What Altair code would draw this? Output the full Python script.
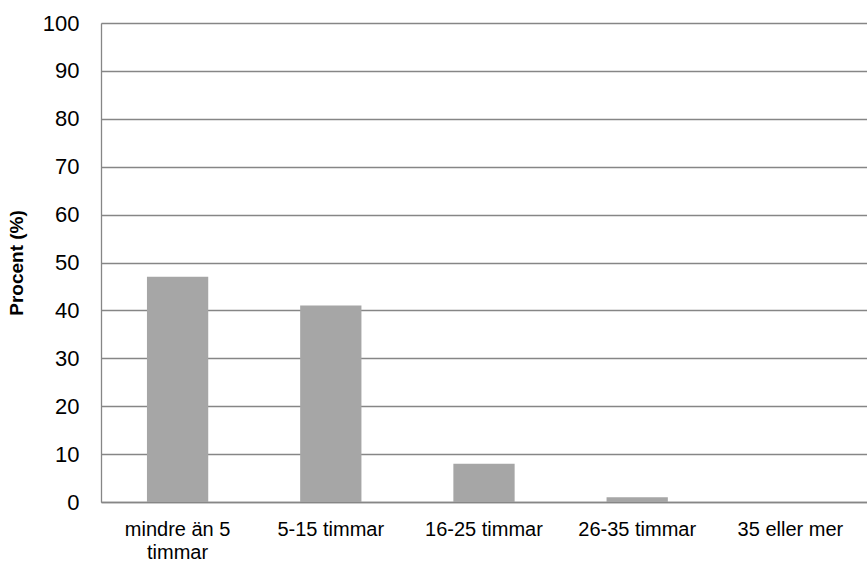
import altair as alt
import pandas as pd

categories = ["mindre än 5 timmar", "5-15 timmar", "16-25 timmar", "26-35 timmar", "35 eller mer"]
values = [47, 41, 8, 1, 0]

df = pd.DataFrame({"kategori": categories, "procent": values})

label_expr = "datum.value == 'mindre än 5 timmar' ? ['mindre än 5', 'timmar'] : datum.value"

chart = alt.Chart(df).mark_bar(color="#A6A6A6").encode(
    x=alt.X(
        "kategori:N",
        sort=categories,
        scale=alt.Scale(paddingInner=0.6, paddingOuter=0.3),
        axis=alt.Axis(
            title=None,
            labelAngle=0,
            labelExpr=label_expr,
            labelFont="Liberation Sans",
            labelFontSize=20,
            labelColor="#000000",
            labelPadding=17,
            labelLineHeight=23,
            ticks=False,
            domainColor="#868686",
            domainWidth=1.3,
            grid=False,
        ),
    ),
    y=alt.Y(
        "procent:Q",
        scale=alt.Scale(domain=[0, 100]),
        axis=alt.Axis(
            title="Procent (%)",
            values=list(range(0, 101, 10)),
            titleFont="Liberation Sans",
            titleFontSize=19,
            titleFontWeight="bold",
            titleColor="#000000",
            titlePadding=16,
            labelFont="Liberation Sans",
            labelFontSize=22,
            labelColor="#000000",
            labelPadding=22,
            ticks=False,
            domainColor="#868686",
            domainWidth=1.3,
            gridColor="#868686",
            gridWidth=1.3,
        ),
    ),
).properties(
    width=766,
    height=479,
    autosize=alt.AutoSizeParams(type="none"),
    padding={"left": 101, "top": 23, "right": 0, "bottom": 59},
).configure_view(stroke=None).configure(background="#FFFFFF")

chart.save("out.html", embed_options={"renderer": "svg", "actions": False})
